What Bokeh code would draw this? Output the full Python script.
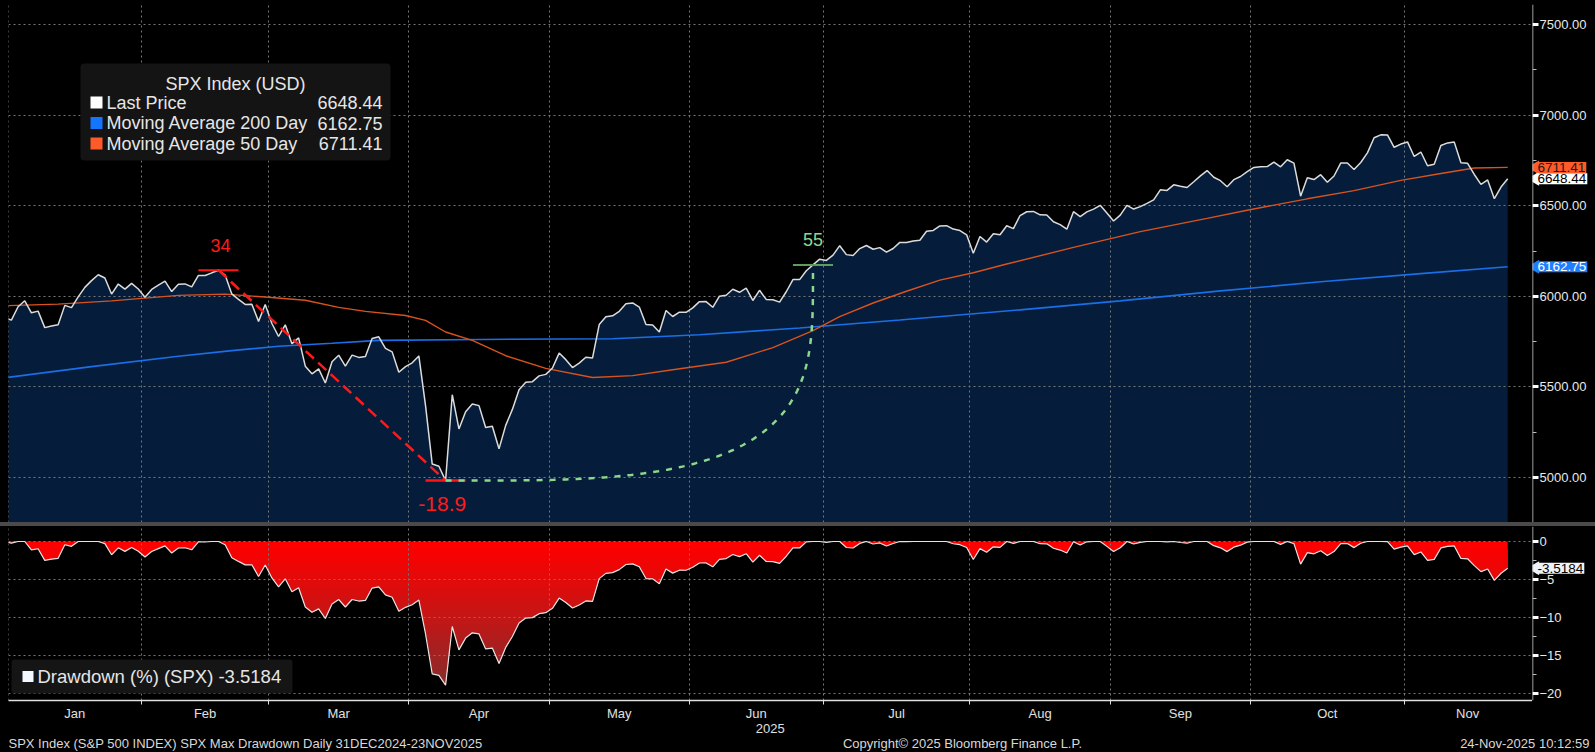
import numpy as np
from bokeh.plotting import figure
from bokeh.models import (Range1d, FixedTicker, Grid, Label, BoxAnnotation, NumeralTickFormatter,
                          Spacer, LinearAxis)
from bokeh.layouts import column, row
from bokeh.core.properties import value
from bokeh.embed import file_html
from bokeh.resources import INLINE

# ---------------- data (trading-day index 0 = 31 Dec 2024) ----------------
price = [
    5881.63,
    5868.55, 5942.47, 5975.38, 5909.03, 5918.25, 5827.04, 5836.22, 5842.91, 5949.91, 5937.34,
    5996.66, 6049.24, 6086.37, 6118.71, 6101.24, 6012.28, 6067.70, 6039.31, 6071.17, 6040.53,
    5994.57, 6037.88, 6061.48, 6083.57, 6025.99, 6066.44, 6068.50, 6051.97, 6115.07, 6114.63,
    6129.58, 6144.15, 6117.52, 6013.13, 5983.25, 5955.25, 5956.06, 5861.57, 5954.50,
    5849.72, 5778.15, 5842.63, 5738.52, 5770.20, 5614.56, 5572.07, 5599.30, 5521.52, 5638.94,
    5675.12, 5614.66, 5675.29, 5662.89, 5667.56, 5767.57, 5776.65, 5712.20, 5693.31, 5580.94, 5611.85,
    5633.07, 5670.97, 5396.52, 5074.08, 5062.25, 4982.77, 5456.90, 5268.05, 5363.36, 5405.97,
    5396.63, 5275.70, 5282.70, 5158.20, 5287.76, 5375.86, 5484.77, 5525.21, 5528.75, 5560.83, 5569.06,
    5604.14, 5686.67, 5650.38, 5606.91, 5631.28, 5663.94, 5659.91, 5844.19, 5886.55, 5892.58,
    5916.93, 5958.38, 5963.60, 5940.46, 5844.61, 5842.01, 5802.82, 5921.54, 5888.55, 5912.17, 5911.69,
    5935.94, 5970.37, 5970.81, 5939.30, 6000.36, 6005.88, 6038.81, 6022.24, 6045.26, 5976.97,
    6033.11, 5982.72, 5980.87, 5967.84, 6025.17, 6092.18, 6092.16, 6141.02, 6173.07, 6204.95,
    6198.01, 6227.42, 6279.35, 6229.98, 6225.52, 6263.26, 6280.46, 6259.75, 6268.56, 6243.76, 6263.70,
    6297.36, 6296.79, 6305.60, 6309.62, 6358.91, 6363.35, 6388.64, 6389.77, 6370.86, 6362.90, 6339.39,
    6238.01, 6329.94, 6299.19, 6345.06, 6340.00, 6389.45, 6373.45, 6445.76, 6466.58, 6468.54, 6449.80,
    6449.15, 6411.37, 6395.78, 6370.17, 6466.91, 6439.32, 6465.94, 6481.40, 6501.86, 6460.26,
    6415.54, 6448.26, 6502.08, 6481.50, 6495.15, 6512.61, 6532.04, 6587.47, 6584.29, 6615.28, 6606.76,
    6600.35, 6631.96, 6664.36, 6693.75, 6656.92, 6637.97, 6604.72, 6643.70, 6661.21, 6688.46,
    6711.20, 6715.35, 6715.79, 6740.28, 6714.59, 6753.72, 6735.11, 6552.51, 6654.72, 6644.31, 6671.06,
    6629.07, 6664.01, 6735.13, 6735.35, 6699.40, 6738.44, 6791.69, 6875.16, 6890.89, 6890.59, 6822.34, 6840.20,
    6851.97, 6771.55, 6796.29, 6720.32, 6728.80, 6832.43, 6846.61, 6850.92, 6737.49, 6734.11,
    6672.41, 6617.32, 6642.16, 6538.76, 6602.99, 6648.44,
]

ma50_idx = [0, 8, 16, 26, 33, 39, 45, 50, 54, 60, 63, 66, 70, 75, 81, 88, 94, 100, 108, 115, 121,
            125, 130, 135, 140, 145, 150, 160, 170, 180, 186, 195, 202, 209, 215, 220, 225]
ma50_val = [5948, 5957, 5975, 6005, 6012, 5996, 5978, 5939, 5917, 5894, 5867, 5803, 5757, 5672, 5602,
            5552, 5562, 5595, 5636, 5717, 5810, 5888, 5963, 6028, 6089, 6130, 6178, 6270, 6357, 6430,
            6475, 6538, 6583, 6640, 6678, 6708, 6711.41]

ma200_idx = [0, 13, 26, 34, 41, 49, 56, 71, 91, 104, 119, 134, 152, 167, 182, 197, 212, 225]
ma200_val = [5550, 5612, 5669, 5700, 5724, 5741, 5757, 5762, 5766, 5788, 5825, 5869, 5925, 5975,
             6030, 6080, 6125, 6162.75]

month_names = ["Jan", "Feb", "Mar", "Apr", "May", "Jun", "Jul", "Aug", "Sep", "Oct", "Nov"]
month_first = [1, 21, 40, 61, 82, 103, 123, 145, 166, 187, 210]
month_days = [20, 19, 21, 21, 21, 20, 22, 21, 21, 23, 19]
year_label = "2025"
year_pos = 114.6

price_ticks = [5000, 5500, 6000, 6500, 7000, 7500]
price_minor = [5250, 5750, 6250, 6750, 7250]
dd_ticks = [0, -5, -10, -15, -20]
dd_minor = [-2.5, -7.5, -12.5, -17.5]

title_txt = "SPX Index (USD)"
series_names = ["Last Price", "Moving Average 200 Day", "Moving Average 50 Day"]
dd_name = "Drawdown (%) (SPX)"
footer_left = "SPX Index (S&P 500 INDEX) SPX Max Drawdown Daily 31DEC2024-23NOV2025"
footer_mid = "Copyright\u00a9 2025 Bloomberg Finance L.P."
footer_right = "24-Nov-2025 10:12:59"

# ---------------- derived ----------------
p_arr = np.array(price, dtype=float)
idx = np.arange(len(price), dtype=float)
dd = (p_arr / np.maximum.accumulate(p_arr) - 1.0) * 100.0
trough_i = int(np.argmin(dd))
peak_i = int(np.argmax(p_arr[:trough_i + 1]))
recov_i = int(trough_i + np.argmax(p_arr[trough_i:] >= p_arr[peak_i]))

bounds = [f - 0.5 for f in month_first]
mids = [f - 0.5 + d / 2.0 for f, d in zip(month_first, month_days)]

# ---------------- geometry helpers (page pixels -> data) ----------------
X0_PX, PX_PER_DAY = 4.2, 6.68
def xi(px):
    return (px - X0_PX) / PX_PER_DAY
def yv(py):
    return 7500 - (py - 24) * 2500.0 / 453.0
def yd(py):
    return -(py - 541) * 20.0 / 152.0

FRAME_L, FRAME_R = 8, 1532
TOP_Y0, TOP_Y1 = 4, 522
BOT_Y0, BOT_Y1 = 526, 700
SIDE_W = 1595 - FRAME_R
BELOW = 36

xr = Range1d(xi(FRAME_L), xi(FRAME_R))
yr_top = Range1d(yv(TOP_Y1), yv(TOP_Y0))
yr_bot = Range1d(yd(BOT_Y1), yd(BOT_Y0))

FONT = "Liberation Sans"
NAVY = "#051d3a"
GRID = "#777777"
BLUE = "#1a6fe8"
ORANGE = "#d9531e"
BG = "#000000"


def base_fig(**kw):
    opts = dict(output_backend="svg", toolbar_location=None, background_fill_color=BG,
                border_fill_color=BG, outline_line_color=None, min_border_left=0,
                min_border_right=0, min_border_top=0, min_border_bottom=0)
    opts.update(kw)
    f = figure(**opts)
    f.grid.visible = False
    return f


def style_axis(ax):
    ax.axis_line_color = "#d0d0d0"
    ax.axis_line_width = 1.5
    ax.major_tick_line_color = "#ffffff"
    ax.major_tick_line_width = 3
    ax.major_tick_out = 6
    ax.major_tick_in = 0
    ax.minor_tick_line_color = "#bbbbbb"
    ax.minor_tick_out = 4
    ax.minor_tick_in = 0
    ax.major_label_text_color = "#e8e8e8"
    ax.major_label_text_font = FONT
    ax.major_label_text_font_size = "13px"
    ax.major_label_standoff = 1


def add_tag(fig, yval, text, bg, fg):
    fig.scatter(x=[2.6], y=[yval], marker="triangle", angle=np.pi / 2, size=14,
                fill_color=bg, line_color=None)
    fig.add_layout(Label(x=4, y=yval, text=text, text_color=fg, text_font=FONT,
                         text_font_size="13.5px", text_align="left", text_baseline="middle",
                         background_fill_color=bg, background_fill_alpha=1, padding=1))


# ---------------- top panel ----------------
top = base_fig(frame_width=FRAME_R - FRAME_L, frame_height=TOP_Y1 - TOP_Y0, x_range=xr, y_range=yr_top,
               x_axis_location=None, y_axis_location=None, min_border_left=FRAME_L,
               min_border_top=TOP_Y0)
top.add_layout(Grid(dimension=0, ticker=FixedTicker(ticks=bounds), grid_line_color=GRID,
                    grid_line_dash="2 3", grid_line_width=1))
top.add_layout(Grid(dimension=1, ticker=FixedTicker(ticks=price_ticks), grid_line_color=GRID,
                    grid_line_dash="2 3", grid_line_width=1))

top.varea(x=idx, y1=p_arr, y2=yv(700), fill_color=NAVY, fill_alpha=1, level="image")
top.line(ma200_idx, ma200_val, line_color=BLUE, line_width=1.6)
top.line(ma50_idx, ma50_val, line_color=ORANGE, line_width=1.4)
top.line(idx, p_arr, line_color="#dcdcdc", line_width=1.5)

pk, tr, rc = p_arr[peak_i], p_arr[trough_i], p_arr[recov_i]
top.segment(x0=[peak_i - 3], y0=[pk], x1=[peak_i + 3], y1=[pk], line_color="#ff1414", line_width=2)
top.line([peak_i, trough_i], [pk, tr], line_color="#ff1a1a", line_width=2.5, line_dash="11 6")
top.segment(x0=[trough_i - 3], y0=[tr], x1=[trough_i + 3], y1=[tr], line_color="#ff1414", line_width=2.5)
th = np.linspace(0, np.pi / 2, 200)
pw = 3.5
u = np.sin(th) ** (2.0 / pw)
v = np.cos(th) ** (2.0 / pw)
cx = trough_i + u * (recov_i - trough_i)
cy = tr + (1 - v) * (pk - tr)
top.line(cx, cy, line_color="#8ed88e", line_width=2.5, line_dash="6 7")
top.segment(x0=[recov_i - 3], y0=[rc], x1=[recov_i + 3], y1=[rc], line_color="#5e9e58", line_width=2)

top.text(x=[peak_i + 0.3], y=[pk], text=[str(trough_i - peak_i)], text_color="#ff1a1a",
         text_font=value(FONT), text_font_size="18px", text_align="center",
         text_baseline="middle", y_offset=-25)
top.text(x=[trough_i - 0.5], y=[tr], text=[f"{dd.min():.1f}"], text_color="#ff1a1a",
         text_font=value(FONT), text_font_size="21px", text_align="center",
         text_baseline="middle", y_offset=23)
top.text(x=[recov_i], y=[rc], text=[str(recov_i - trough_i)], text_color="#8ed88e",
         text_font=value(FONT), text_font_size="18px", text_align="center",
         text_baseline="middle", y_offset=-25)

top.add_layout(BoxAnnotation(left=xi(80), right=xi(390), top=yv(63), bottom=yv(160),
                             fill_color="#141414", fill_alpha=1, line_color=None, border_radius=4))
top.add_layout(Label(x=xi(235), y=yv(83), text=title_txt, text_color="#e6e6e6", text_font=FONT,
                     text_font_size="18px", text_align="center", text_baseline="middle"))
leg_vals = [price[-1], ma200_val[-1], ma50_val[-1]]
leg_cols = ["#ffffff", "#1476ff", "#ff5a2a"]
for k, (nm, vv, cc) in enumerate(zip(series_names, leg_vals, leg_cols)):
    yc = 102 + 20.5 * k
    top.add_layout(BoxAnnotation(left=xi(90), right=xi(102), top=yv(yc - 6), bottom=yv(yc + 6),
                                 fill_color=cc, fill_alpha=1, line_color=None))
    top.add_layout(Label(x=xi(106), y=yv(yc), text=nm, text_color="#e6e6e6", text_font=FONT,
                         text_font_size="18px", text_align="left", text_baseline="middle"))
    top.add_layout(Label(x=xi(382), y=yv(yc), text=f"{vv:.2f}", text_color="#e6e6e6", text_font=FONT,
                         text_font_size="18px", text_align="right", text_baseline="middle"))

# right-hand axis strip for the top panel
top_side = base_fig(frame_width=SIDE_W, frame_height=TOP_Y1 - TOP_Y0, x_range=Range1d(0, SIDE_W),
                    y_range=yr_top, x_axis_location=None, y_axis_location=None, min_border_top=TOP_Y0)
ya = LinearAxis(fixed_location=0, ticker=FixedTicker(ticks=price_ticks, minor_ticks=price_minor),
                formatter=NumeralTickFormatter(format="0.00"))
style_axis(ya)
top_side.add_layout(ya, "right")
add_tag(top_side, ma50_val[-1], f"{ma50_val[-1]:.2f}", "#ff5a28", "#1a1a1a")
add_tag(top_side, price[-1], f"{price[-1]:.2f}", "#ffffff", "#000000")
add_tag(top_side, ma200_val[-1], f"{ma200_val[-1]:.2f}", "#1f7dff", "#ffffff")

# ---------------- divider ----------------
divider = Spacer(width=1595, height=BOT_Y0 - TOP_Y1, styles={"background-color": "#4a4a4a"})

# ---------------- lower panel ----------------
bot = base_fig(frame_width=FRAME_R - FRAME_L, frame_height=BOT_Y1 - BOT_Y0, x_range=xr, y_range=yr_bot,
               y_axis_location=None, min_border_left=FRAME_L, min_border_bottom=BELOW)
bot.add_layout(Grid(dimension=0, ticker=FixedTicker(ticks=bounds), grid_line_color=GRID,
                    grid_line_dash="2 3", grid_line_width=1))
bot.add_layout(Grid(dimension=1, ticker=FixedTicker(ticks=dd_ticks), grid_line_color=GRID,
                    grid_line_dash="2 3", grid_line_width=1))
xb = bot.xaxis[0]
xb.ticker = FixedTicker(ticks=mids, minor_ticks=bounds)
xb.major_label_overrides = {m: n for m, n in zip(mids, month_names)}
xb.axis_line_color = "#e0e0e0"
xb.axis_line_width = 1.5
xb.major_tick_line_color = None
xb.major_tick_out = 0
xb.major_tick_in = 0
xb.minor_tick_line_color = "#e0e0e0"
xb.minor_tick_out = 4
xb.minor_tick_in = 0
xb.major_label_text_color = "#e0e0e0"
xb.major_label_text_font = FONT
xb.major_label_text_font_size = "13px"
xb.major_label_standoff = 1

xy = LinearAxis(ticker=FixedTicker(ticks=[year_pos]), major_label_overrides={year_pos: year_label})
xy.axis_line_color = None
xy.major_tick_line_color = None
xy.minor_tick_line_color = None
xy.major_tick_out = 0
xy.major_tick_in = 0
xy.major_label_standoff = 0
xy.major_label_text_color = "#e0e0e0"
xy.major_label_text_font = FONT
xy.major_label_text_font_size = "13px"
bot.add_layout(xy, "below")


def clip_below(xs, ys, t):
    xo, yo = [], []
    for i in range(len(xs)):
        if i > 0:
            y0, y1 = ys[i - 1], ys[i]
            if (y0 - t) * (y1 - t) < 0:
                f = (t - y0) / (y1 - y0)
                xo.append(xs[i - 1] + f * (xs[i] - xs[i - 1]))
                yo.append(t)
        xo.append(xs[i])
        yo.append(min(ys[i], t))
    return xo, yo


bot.varea(x=idx, y1=0, y2=dd, fill_color="#ff0000", fill_alpha=1, level="image")
for k in range(1, 20):
    t = -float(k)
    if dd.min() >= t:
        break
    xs, ys = clip_below(list(idx), list(dd), t)
    f = min(1.0, (k + 0.5) / 19.0) ** 1.1
    col = "#%02x%02x%02x" % (int(255 - 120 * f), int(45 * f), int(45 * f))
    bot.varea(x=xs, y1=[t] * len(xs), y2=ys, fill_color=col, fill_alpha=1, level="image")
bot.line(idx, dd, line_color="#e4e4e4", line_width=1.2)

bot.add_layout(BoxAnnotation(left=xi(11), right=xi(292), top=yd(659), bottom=yd(693),
                             fill_color="#151515", fill_alpha=1, line_color=None, border_radius=3))
bot.add_layout(BoxAnnotation(left=xi(22), right=xi(33), top=yd(670.5), bottom=yd(681.5),
                             fill_color="#f4f8ff", fill_alpha=1, line_color=None))
bot.add_layout(Label(x=xi(37), y=yd(676), text=f"{dd_name} {dd[-1]:.4f}", text_color="#e6e6e6",
                     text_font=FONT, text_font_size="18.5px", text_align="left", text_baseline="middle"))

bot_side = base_fig(frame_width=SIDE_W, frame_height=BOT_Y1 - BOT_Y0, x_range=Range1d(0, SIDE_W),
                    y_range=yr_bot, x_axis_location=None, y_axis_location=None,
                    min_border_bottom=BELOW)
yb = LinearAxis(fixed_location=0, ticker=FixedTicker(ticks=dd_ticks, minor_ticks=dd_minor))
style_axis(yb)
bot_side.add_layout(yb, "right")
add_tag(bot_side, dd[-1], f"{dd[-1]:.4f}", "#eef3f8", "#000000")

# ---------------- footer ----------------
FOOT_Y0 = BOT_Y1 + BELOW
foot = base_fig(width=1595, height=752 - FOOT_Y0, x_range=Range1d(0, 1595),
                y_range=Range1d(752, FOOT_Y0), x_axis_location=None, y_axis_location=None)
foot_kw = dict(text_color="#d8d8d8", text_font=value(FONT), text_font_size="13px",
               text_baseline="middle")
foot.text(x=[8], y=[743], text=[footer_left], text_align="left", **foot_kw)
foot.text(x=[962], y=[743], text=[footer_mid], text_align="center", **foot_kw)
foot.text(x=[1589], y=[743], text=[footer_right], text_align="right", **foot_kw)

layout = column(row(top, top_side), divider, row(bot, bot_side), foot)
html = file_html(layout, INLINE, title="SPX Max Drawdown")
html = html.replace("</head>", "<style>html,body{background:#000000;}</style></head>", 1)
open("out.html", "w").write(html)
